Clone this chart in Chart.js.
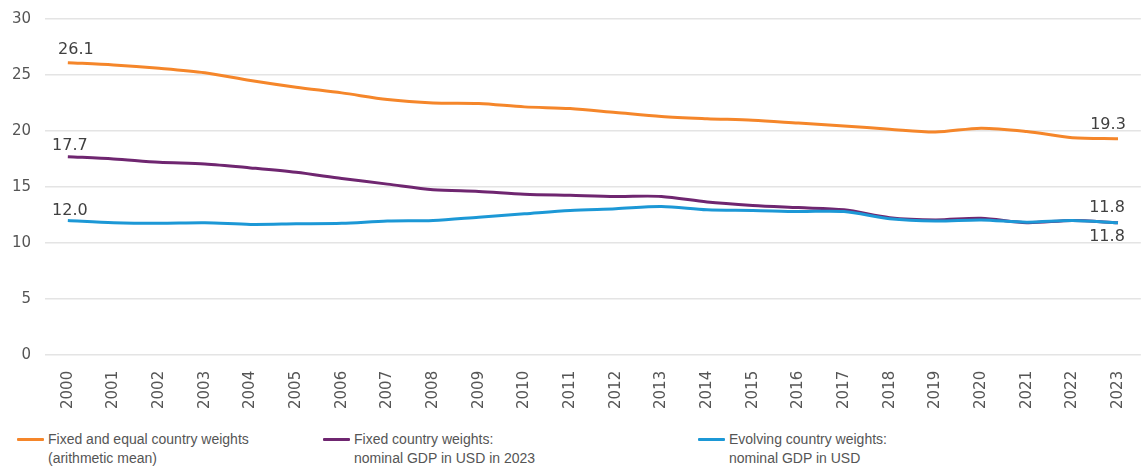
<!DOCTYPE html>
<html>
<head>
<meta charset="utf-8">
<script src="https://cdn.jsdelivr.net/npm/chart.js@4/dist/chart.umd.min.js"></script>
<style>
  html, body { margin: 0; padding: 0; background: #fff; }
  #wrap { position: relative; width: 1144px; height: 467px; overflow: hidden; }
  #chartBox { position: absolute; left: 0; top: -4px; width: 1144px; height: 421px; }
  .legend-item { position: absolute; top: 430px; display: flex; align-items: flex-start;
    font-family: "Liberation Sans", Arial, sans-serif; font-size: 14px; line-height: 19px; color: #555; }
  .legend-item .swatch { width: 27px; height: 3px; margin-top: 8px; margin-right: 4px; border-radius: 1px; }
</style>
</head>
<body>
<div id="wrap">
  <div id="chartBox"><canvas id="chart"></canvas></div>
  <div id="legend"></div>
</div>
<script>
// Years on the category axis
const years = ["2000","2001","2002","2003","2004","2005","2006","2007","2008","2009","2010","2011",
               "2012","2013","2014","2015","2016","2017","2018","2019","2020","2021","2022","2023"];

// Fixed and equal country weights (arithmetic mean)
const equalWeights = [26.1, 25.9, 25.6, 25.2, 24.5, 23.9, 23.4, 22.8, 22.5, 22.45, 22.15, 22.0,
                      21.65, 21.3, 21.1, 20.95, 20.7, 20.45, 20.15, 19.9, 20.25, 19.95, 19.4, 19.3];

// Fixed country weights: nominal GDP in USD in 2023
const fixedGdpWeights = [17.7, 17.5, 17.2, 17.05, 16.7, 16.3, 15.75, 15.25, 14.75, 14.6, 14.35, 14.25,
                         14.15, 14.15, 13.65, 13.35, 13.15, 12.95, 12.25, 12.05, 12.2, 11.8, 12.0, 11.8];

// Evolving country weights: nominal GDP in USD
const evolvingGdpWeights = [12.0, 11.8, 11.75, 11.8, 11.65, 11.7, 11.75, 11.95, 12.0, 12.3, 12.6, 12.9,
                            13.05, 13.25, 12.95, 12.9, 12.8, 12.8, 12.15, 11.95, 12.05, 11.85, 12.0, 11.8];

// Y axis range and step
const yMin = 0, yMax = 30, yStep = 5;

// Legend entries (two lines each)
const seriesNames = [
  ["Fixed and equal country weights", "(arithmetic mean)"],
  ["Fixed country weights:", "nominal GDP in USD in 2023"],
  ["Evolving country weights:", "nominal GDP in USD"]
];

const colors = ["#F5862A", "#6F2670", "#1C98D6"];

// Value labels at the start and end of each line
const endLabels = [
  { ds: 0, at: "first", dx: 8,  dy: -13 },
  { ds: 0, at: "last",  dx: -10, dy: -14 },
  { ds: 1, at: "first", dx: 2,  dy: -11 },
  { ds: 1, at: "last",  dx: -11, dy: -15 },
  { ds: 2, at: "first", dx: 2,  dy: -10 },
  { ds: 2, at: "last",  dx: -11, dy: 14 }
];

const endLabelPlugin = {
  id: "endLabels",
  afterDatasetsDraw(chart) {
    const ctx = chart.ctx;
    ctx.save();
    ctx.font = '16px "DejaVu Sans"';
    ctx.fillStyle = "#404040";
    ctx.textAlign = "center";
    ctx.textBaseline = "middle";
    endLabels.forEach(l => {
      const meta = chart.getDatasetMeta(l.ds);
      const data = chart.data.datasets[l.ds].data;
      const i = l.at === "first" ? 0 : data.length - 1;
      const pt = meta.data[i];
      ctx.fillText(data[i].toFixed(1), pt.x + l.dx, pt.y + l.dy);
    });
    ctx.restore();
  }
};

const series = [equalWeights, fixedGdpWeights, evolvingGdpWeights];

new Chart(document.getElementById("chart"), {
  type: "line",
  data: {
    labels: years,
    datasets: series.map((vals, k) => ({
      label: seriesNames[k].join(" "),
      data: vals,
      borderColor: colors[k],
      backgroundColor: colors[k],
      borderWidth: 3,
      pointRadius: 0,
      tension: 0.3,
      order: 2 - k,
      fill: false
    }))
  },
  options: {
    responsive: true,
    maintainAspectRatio: false,
    animation: false,
    layout: { padding: { left: 12, top: 13, right: 0, bottom: 0 } },
    plugins: { legend: { display: false }, tooltip: { enabled: false } },
    scales: {
      x: {
        offset: true,
        grid: { display: false },
        border: { display: false },
        ticks: {
          autoSkip: false,
          maxRotation: 90, minRotation: 90,
          padding: 8,
          color: "#555",
          font: { family: "DejaVu Sans", size: 15 }
        }
      },
      y: {
        min: yMin, max: yMax,
        border: { display: false },
        grid: { color: "#e4e4e4", lineWidth: 1.5, drawTicks: false },
        afterFit(scale) { scale.width = 33; },
        ticks: {
          stepSize: yStep,
          padding: 14,
          color: "#555",
          font: { family: "DejaVu Sans", size: 15 }
        }
      }
    }
  },
  plugins: [endLabelPlugin]
});

// Legend below the plot
const legendLefts = [17, 323, 698];
const legend = document.getElementById("legend");
seriesNames.forEach((lines, k) => {
  const item = document.createElement("div");
  item.className = "legend-item";
  item.style.left = legendLefts[k] + "px";
  const sw = document.createElement("div");
  sw.className = "swatch";
  sw.style.background = colors[k];
  const txt = document.createElement("div");
  txt.innerHTML = lines.join("<br>");
  item.appendChild(sw);
  item.appendChild(txt);
  legend.appendChild(item);
});
</script>
</body>
</html>
